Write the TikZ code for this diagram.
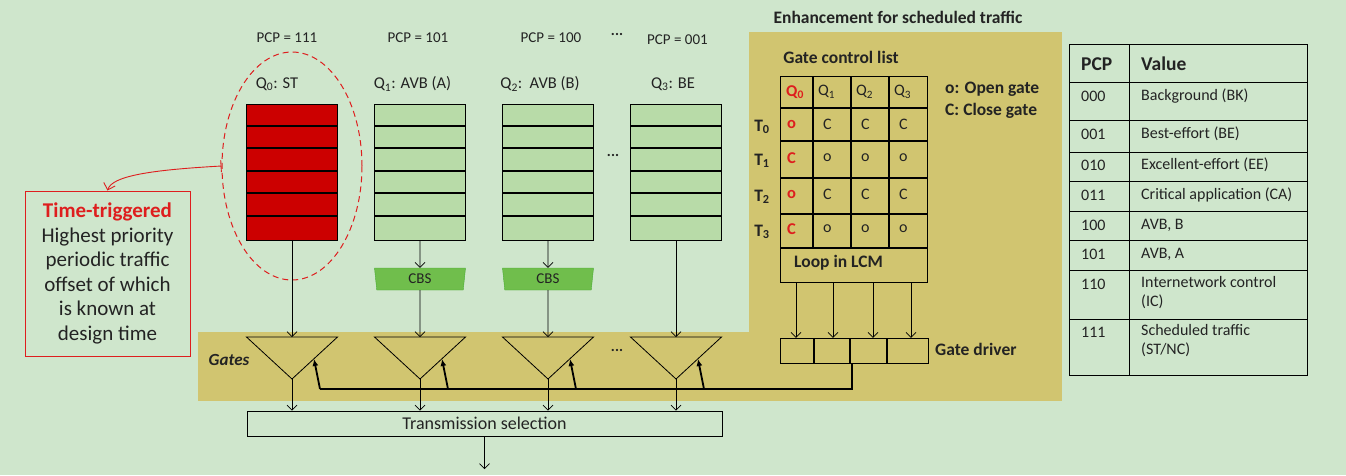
\documentclass[tikz,border=0pt]{standalone}
\usepackage{fontspec}
\setmainfont{Carlito}
\usetikzlibrary{arrows.meta, positioning, shapes.geometric}

\definecolor{bggreen}{RGB}{207,230,204}
\definecolor{olive}{RGB}{209,197,112}
\definecolor{qgreen}{RGB}{184,219,168}
\definecolor{cbsgreen}{RGB}{112,190,76}
\definecolor{cbsedge}{RGB}{72,172,52}
\definecolor{ttred}{RGB}{204,0,0}
\definecolor{txtred}{RGB}{222,30,30}
\definecolor{ink}{RGB}{35,35,35}

\begin{document}
\begin{tikzpicture}[x=1pt, y=-1pt, >=Straight Barb, text=ink,
  font=\fontsize{15}{17}\selectfont,
  queue/.style={draw=black, line width=0.8pt, minimum width=91pt, minimum height=136pt, inner sep=0pt},
  sepline/.style={line width=2.6pt},
  link/.style={line width=0.7pt, -{Straight Barb[length=5pt,width=10pt]}},
  ctrl/.style={line width=1.8pt, -{Latex[length=7pt,width=6pt]}},
  gate/.style={draw, line width=0.8pt},
  qlbl/.style={font=\fontsize{16.5}{18}\selectfont},
  boldlbl/.style={font=\fontsize{17.5}{20}\selectfont\bfseries},
  cell/.style={anchor=west, inner sep=0pt, font=\fontsize{16}{18}\selectfont},
  redcell/.style={cell, text=txtred, font=\fontsize{16.5}{18}\selectfont\bfseries},
  tabtext/.style={anchor=west, inner sep=0pt, align=left, font=\fontsize{16}{19}\selectfont},
  tabhead/.style={anchor=west, inner sep=0pt, font=\fontsize{19.5}{22}\selectfont\bfseries},
  ]
  % background and bounding box
  \fill[bggreen] (0,0) rectangle (1346,475);
  \useasboundingbox (0,0) rectangle (1346,475);
  \fill[olive] (749,32) rectangle (1062,332);
  \fill[olive] (198,332) rectangle (1062,401);
  \node[boldlbl] (title) at (898,17) {Enhancement for scheduled traffic};

  % queues
  \foreach \x/\n/\c in {292/0/ttred, 420/1/qgreen, 548/2/qgreen, 676/3/qgreen} {
    \node[queue, fill=\c] (q\n) at (\x,172) {};
    \foreach \y in {126,148,171,193,216}
      \draw[sepline] (\x-45.5,\y) -- (\x+45.5,\y);
    % gate triangle
    \draw[gate] (\x-45.5,337) -- (\x+45.5,337) -- (\x,379) -- cycle;
    \coordinate (g\n) at (\x,337);
    \coordinate (ga\n) at (\x,379);
    \coordinate (bus\n) at (\x+28,389);
    \coordinate (gs\n) at (\x+22,359);
  }
  \node (pcp0) at (287,38) {PCP = 111};
  \node (pcp1) at (418,38) {PCP = 101};
  \node (pcp2) at (551,38) {PCP = 100};
  \node[font=\fontsize{15}{17}\selectfont\bfseries] (dotsA) at (617,34) {...};
  \node (pcp3) at (677.5,40) {PCP = 001};
  \node[qlbl] (lq0) at (277,84) {Q\textsubscript{0}: ST};
  \node[qlbl] (lq1) at (412.5,84) {Q\textsubscript{1}: AVB (A)};
  \node[qlbl] (lq2) at (540,84) {Q\textsubscript{2}:\ \ AVB (B)};
  \node[qlbl] (lq3) at (673,84) {Q\textsubscript{3}: BE};
  \node[font=\fontsize{15}{17}\selectfont\bfseries] (dotsB) at (613,155) {...};

  % time-triggered callout
  \node[draw=txtred, dashed, dash pattern=on 6pt off 4pt, line width=1pt, ellipse,
    minimum width=140pt, minimum height=228pt] (ttring) at (292,166) {};
  \node[draw=txtred, line width=1pt, minimum width=165pt, minimum height=165pt,
    align=center, font=\fontsize{21}{24.6}\selectfont] (ttbox) at (107.5,273.5)
    {\textcolor{txtred}{\bfseries Time-triggered}\\Highest priority\\periodic traffic\\offset of which\\is known at\\design time};
  \draw[txtred, line width=0.9pt, {Bar[width=12pt]}-{Straight Barb[length=6pt,width=12pt]}]
    (ttring.west) .. controls (150,170) and (112,176) .. (ttbox.north);

  % credit based shapers
  \foreach \x/\n in {420/1, 548/2} {
    \node[trapezium, trapezium angle=77, shape border rotate=180, draw=cbsedge, fill=cbsgreen,
      minimum width=91pt, minimum height=22pt, trapezium stretches body, inner sep=0pt,
      font=\fontsize{15}{17}\selectfont] (cbs\n) at (\x,279) {CBS};
    \draw[link] (q\n.south) -- (cbs\n.north);
    \draw[link] (cbs\n.south) -- (g\n);
  }
  \draw[link] (q0.south) -- (g0);
  \draw[link] (q3.south) -- (g3);

  % gates
  \node[font=\fontsize{17}{19}\selectfont\bfseries\itshape] (gateslbl) at (229,360) {Gates};
  \node[font=\fontsize{15}{17}\selectfont\bfseries] (dotsC) at (617,350) {...};
  \node[draw, line width=0.8pt, minimum width=475pt, minimum height=25pt, inner sep=0pt,
    font=\fontsize{18}{20}\selectfont] (tsel) at (484.5,423.5) {Transmission selection};
  \foreach \n in {0,...,3} {
    \draw[link] (ga\n) -- (ga\n |- tsel.north);
    \draw[ctrl] (bus\n) -- (gs\n);
  }
  \coordinate (out) at (484.5,469);
  \draw[link] (tsel.south) -- (out);

  % gate control list
  \node[boldlbl] (gcl) at (841,57) {Gate control list};
  \draw[line width=0.8pt] (780,76) rectangle (927,282);
  \foreach \y in {108,141,178,214,248}
    \draw[line width=2.6pt] (780,\y) -- (927,\y);
  \foreach \x in {813,851,889}
    \draw[line width=2.6pt] (\x,76) -- (\x,248);
  \node[redcell] (h0) at (786,92) {Q\textsubscript{0}};
  \node[cell] (h1) at (818,92) {Q\textsubscript{1}};
  \node[cell] (h2) at (856,92) {Q\textsubscript{2}};
  \node[cell] (h3) at (894,92) {Q\textsubscript{3}};
  \foreach \r/\y/\a/\b in {0/124/o/C, 1/158/C/o, 2/194/o/C, 3/229/C/o} {
    \node[boldlbl] (t\r) at (762,\y+3) {T\textsubscript{\r}};
    \node[redcell] (c\r0) at (787,\y) {\a};
    \node[cell] (c\r1) at (823,\y) {\b};
    \node[cell] (c\r2) at (861,\y) {\b};
    \node[cell] (c\r3) at (899,\y) {\b};
  }
  \node[boldlbl, anchor=west, inner sep=0pt] (lcmlbl) at (794,263) {Loop in LCM};
  \coordinate (lcm) at (853.5,282);
  \node[boldlbl, anchor=west, inner sep=0pt] (leg1) at (945,89) {o: Open gate};
  \node[boldlbl, anchor=west, inner sep=0pt] (leg2) at (945,111) {C: Close gate};

  % gate driver
  \foreach \i/\x in {1/796, 2/833, 3/873, 4/911}
    \node[minimum height=25pt, minimum width=2pt, inner sep=0pt] (gd\i) at (\x,350.5) {};
  \draw[line width=0.8pt] (780,338) rectangle (928,363);
  \foreach \x in {814,850,887}
    \draw[line width=2.6pt] (\x,338) -- (\x,363);
  \node[boldlbl, anchor=west, inner sep=0pt] (gdlbl) at (935,349) {Gate driver};
  \foreach \i in {1,...,4}
    \draw[link] (gd\i.north |- lcm) -- (gd\i.north);
  \draw[line width=1.8pt] (852,363) |- (bus0);

  % PCP table
  \draw[line width=0.9pt] (1069,44) rectangle (1307,375);
  \draw[line width=0.9pt] (1129,44) -- (1129,375);
  \foreach \y in {82,120,152,181,211,240,270,319}
    \draw[line width=0.9pt] (1069,\y) -- (1307,\y);
  \node[tabhead] (ph) at (1081,64) {PCP};
  \node[tabhead] (vh) at (1141,64) {Value};
  \foreach \y/\p/\v in {96/000/Background (BK), 134/001/Best-effort (BE), 165/010/Excellent-effort (EE),
      195/011/Critical application (CA), 225/100/{AVB, B}, 254/101/{AVB, A}} {
    \node[tabtext] at (1081,\y) {\p};
    \node[tabtext] at (1141,\y) {\v};
  }
  \node[tabtext] (p110) at (1081,284) {110};
  \node[tabtext, anchor=north west] (v110) at (1141,276) {Internetwork control\\(IC)};
  \node[tabtext] (p111) at (1081,332) {111};
  \node[tabtext, anchor=north west] (v111) at (1141,324) {Scheduled traffic\\(ST/NC)};
\end{tikzpicture}
\end{document}
